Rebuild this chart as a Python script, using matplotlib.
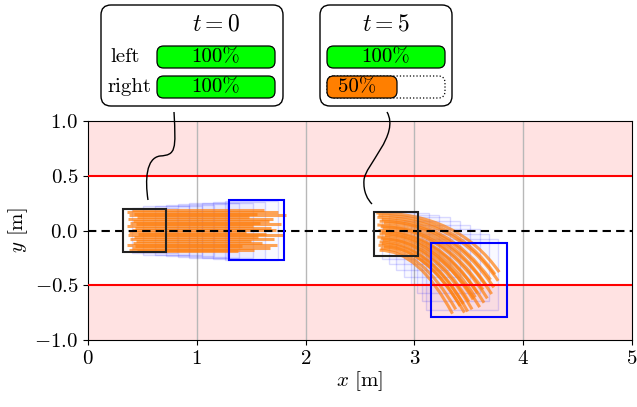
import numpy as np
import matplotlib
matplotlib.use("Agg")
import matplotlib.pyplot as plt
from matplotlib.patches import Rectangle, FancyBboxPatch, PathPatch
from matplotlib.path import Path

plt.rcParams['font.family'] = 'serif'
plt.rcParams['font.serif'] = ['cmr10']
plt.rcParams['mathtext.fontset'] = 'cm'
plt.rcParams['axes.formatter.use_mathtext'] = True

# road
lane_lo, lane_hi = -0.5, 0.5
x_ticks = [0, 1, 2, 3, 4, 5]
y_ticks = [-1.0, -0.5, 0.0, 0.5, 1.0]

# scene t=0: start box, end box, in-between boxes (center x, center y, w, h)
box0_start = (0.52, 0.0, 0.40, 0.40)
box0_end = (1.55, 0.005, 0.51, 0.55)
box0_mid_x = [0.61, 0.72, 0.83, 0.94, 1.05, 1.16, 1.28, 1.39, 1.50]
box0_mid_y = [0.0, 0.0, 0.0, 0.0, 0.0, 0.0, 0.0, 0.0, 0.0]
box0_mid_w = [0.41, 0.42, 0.43, 0.44, 0.45, 0.46, 0.47, 0.48, 0.49]
box0_mid_h = [0.42, 0.44, 0.45, 0.47, 0.48, 0.50, 0.51, 0.52, 0.54]

# straight trajectories at t=0 (start x, end x, y)
traj0_x0 = [0.40, 0.36, 0.42, 0.38, 0.45, 0.37, 0.41, 0.39, 0.44, 0.36, 0.43, 0.40,
            0.38, 0.46, 0.37, 0.42, 0.39, 0.44, 0.41, 0.36, 0.43, 0.40, 0.38, 0.45]
traj0_x1 = [1.62, 1.75, 1.55, 1.82, 1.48, 1.70, 1.66, 1.58, 1.77, 1.52, 1.68, 1.73,
            1.45, 1.64, 1.80, 1.56, 1.71, 1.50, 1.60, 1.74, 1.42, 1.67, 1.53, 1.38]
traj0_y = [0.19, 0.17, 0.155, 0.14, 0.12, 0.105, 0.09, 0.07, 0.055, 0.04, 0.02, 0.005,
           -0.01, -0.03, -0.045, -0.06, -0.08, -0.095, -0.11, -0.13, -0.145, -0.16,
           -0.175, -0.19]

# scene t=5
box5_start = (2.83, -0.03, 0.40, 0.40)
box5_end = (3.50, -0.45, 0.70, 0.68)
box5_mid_x = [2.92, 3.00, 3.08, 3.16, 3.24, 3.31, 3.38, 3.44]
box5_mid_y = [-0.05, -0.08, -0.12, -0.17, -0.22, -0.28, -0.34, -0.40]
box5_mid_w = [0.43, 0.46, 0.49, 0.52, 0.55, 0.58, 0.62, 0.66]
box5_mid_h = [0.42, 0.45, 0.48, 0.51, 0.54, 0.58, 0.61, 0.65]

# curved trajectories at t=5 (start, control, end)
traj5_x0 = [2.65, 2.67, 2.66, 2.70, 2.68, 2.72, 2.66, 2.69, 2.71, 2.67, 2.70, 2.68,
            2.73, 2.66, 2.69, 2.71, 2.68, 2.70, 2.67, 2.72, 2.69, 2.68]
traj5_y0 = [0.16, 0.14, 0.12, 0.10, 0.085, 0.07, 0.05, 0.035, 0.02, 0.0, -0.015,
            -0.03, -0.045, -0.06, -0.075, -0.09, -0.105, -0.12, -0.135, -0.15,
            -0.165, -0.18]
traj5_xc = [3.40, 3.36, 3.38, 3.30, 3.33, 3.28, 3.31, 3.25, 3.27, 3.22, 3.24, 3.20,
            3.18, 3.21, 3.16, 3.17, 3.12, 3.14, 3.10, 3.11, 3.06, 3.04]
traj5_x1 = [3.78, 3.74, 3.77, 3.70, 3.73, 3.66, 3.71, 3.63, 3.67, 3.58, 3.64, 3.56,
            3.54, 3.60, 3.50, 3.53, 3.45, 3.49, 3.42, 3.46, 3.38, 3.35]
traj5_y1 = [-0.38, -0.40, -0.46, -0.45, -0.52, -0.50, -0.58, -0.54, -0.62, -0.57,
            -0.66, -0.61, -0.63, -0.70, -0.65, -0.72, -0.67, -0.74, -0.69, -0.75,
            -0.72, -0.76]

orange = '#ff7f0e'

fig = plt.figure(figsize=(6.37, 4.07), dpi=100)
ax = fig.add_axes([88 / 637, 67 / 407, 544 / 637, 219 / 407])
ax.set_xlim(0, 5)
ax.set_ylim(-1, 1)

ax.axhspan(lane_hi, 1, color='#ffe2e2', zorder=0, lw=0)
ax.axhspan(-1, lane_lo, color='#ffe2e2', zorder=0, lw=0)
for xv in x_ticks[1:-1]:
    ax.axvline(xv, color='#b8b8b8', lw=1, zorder=0.5)
ax.axhline(lane_hi, color='red', lw=1.5, zorder=3)
ax.axhline(lane_lo, color='red', lw=1.5, zorder=3)
ax.axhline(0, color='black', lw=1.5, ls=(0, (4, 2.5)), zorder=4)


def box(cx, cy, w, h, **kw):
    ax.add_patch(Rectangle((cx - w / 2, cy - h / 2), w, h, **kw))


for cx, cy, w, h in zip(box0_mid_x, box0_mid_y, box0_mid_w, box0_mid_h):
    box(cx, cy, w, h, fc=(0, 0, 1, 0.025), ec=(0, 0, 1, 0.14), lw=1, zorder=1)
for cx, cy, w, h in zip(box5_mid_x, box5_mid_y, box5_mid_w, box5_mid_h):
    box(cx, cy, w, h, fc=(0, 0, 1, 0.025), ec=(0, 0, 1, 0.14), lw=1, zorder=1)

for x0, x1, y in zip(traj0_x0, traj0_x1, traj0_y):
    ax.plot([x0, x1], [y, y], color=orange, alpha=0.7, lw=2.2, zorder=2,
            solid_capstyle='butt')

for x0, y0, xc, x1, y1 in zip(traj5_x0, traj5_y0, traj5_xc, traj5_x1, traj5_y1):
    p = Path([(x0, y0), (xc, y0), (x1, y1)], [Path.MOVETO, Path.CURVE3, Path.CURVE3])
    ax.add_patch(PathPatch(p, fill=False, ec=orange, alpha=0.7, lw=2.2, zorder=2))

box(*box0_start, fill=False, ec='#222222', lw=1.5, zorder=5)
box(*box0_end, fill=False, ec='blue', lw=1.5, zorder=5)
box(*box5_start, fill=False, ec='#222222', lw=1.5, zorder=5)
box(*box5_end, fill=False, ec='blue', lw=1.5, zorder=5)

ax.set_xticks(x_ticks)
ax.set_yticks(y_ticks)
ax.tick_params(labelsize=15, direction='out')
ax.set_xlabel(r'$x$ [m]', fontsize=15, labelpad=1)
ax.set_ylabel(r'$y$ [m]', fontsize=15, labelpad=3)

# overlay in pixel coords for callouts
ov = fig.add_axes([0, 0, 1, 1], zorder=10)
ov.set_xlim(0, 637)
ov.set_ylim(407, 0)
ov.axis('off')


def rbox(x0, y0, x1, y1, r, **kw):
    ov.add_patch(FancyBboxPatch((x0 + r, y0 + r), x1 - x0 - 2 * r, y1 - y0 - 2 * r,
                                boxstyle=f'round,pad={r}', **kw))


def bar(x0, x1, y0, y1, fc, ls='-'):
    r = (y1 - y0) / 2
    ov.add_patch(FancyBboxPatch((x0 + r * 0.6, y0 + r * 0.6), x1 - x0 - 1.2 * r,
                                y1 - y0 - 1.2 * r,
                                boxstyle=f'round,pad={r * 0.6}', fc=fc, ec='black',
                                lw=0.9, ls=ls))


def label(x, y, s, size=15, ha='center'):
    # baseline placement so the glyphs sit centred like LaTeX output
    ov.text(x, y + 5.5, s, fontsize=size, ha=ha, va='baseline')


callout_titles = [r'$t=0$', r'$t=5$']
bar_left = [100, 100]
bar_right = [100, 50]

# left callout
rbox(101, 5, 283, 106, 10, fc='white', ec='black', lw=1)
label(216, 25, callout_titles[0], size=17)
label(110, 57, 'left', ha='left')
label(107, 87, 'right', ha='left')
bar(157, 275, 46, 68, '#00ff00')
bar(157, 275, 76, 98, '#00ff00')
label(216, 57, f'{bar_left[0]}%')
label(216, 87, f'{bar_left[1]}%')

# right callout
rbox(320, 5, 452, 106, 10, fc='white', ec='black', lw=1)
label(386, 25, callout_titles[1], size=17)
bar(327, 445, 46, 68, '#00ff00')
bar(327, 445, 76, 98, 'none', ls=':')
bar(327, 327 + (445 - 327) * bar_right[1] / 100 + 11, 76, 98, '#ff7f00')
label(386, 57, f'{bar_right[0]}%')
label(357, 87, f'{bar_right[1]}%')

# connectors
c1 = Path([(174, 112), (176, 150), (176, 155), (160, 156), (146, 158), (145, 180), (148, 200)],
          [Path.MOVETO, Path.CURVE4, Path.CURVE4, Path.CURVE4, Path.CURVE4, Path.CURVE4,
           Path.CURVE4])
ov.add_patch(PathPatch(c1, fill=False, ec='black', lw=1))
c2 = Path([(387, 112), (400, 135), (365, 165), (364, 180), (363, 192), (368, 200), (372, 204)],
          [Path.MOVETO, Path.CURVE4, Path.CURVE4, Path.CURVE4, Path.CURVE4, Path.CURVE4,
           Path.CURVE4])
ov.add_patch(PathPatch(c2, fill=False, ec='black', lw=1))

fig.savefig('out.png', dpi=100)
